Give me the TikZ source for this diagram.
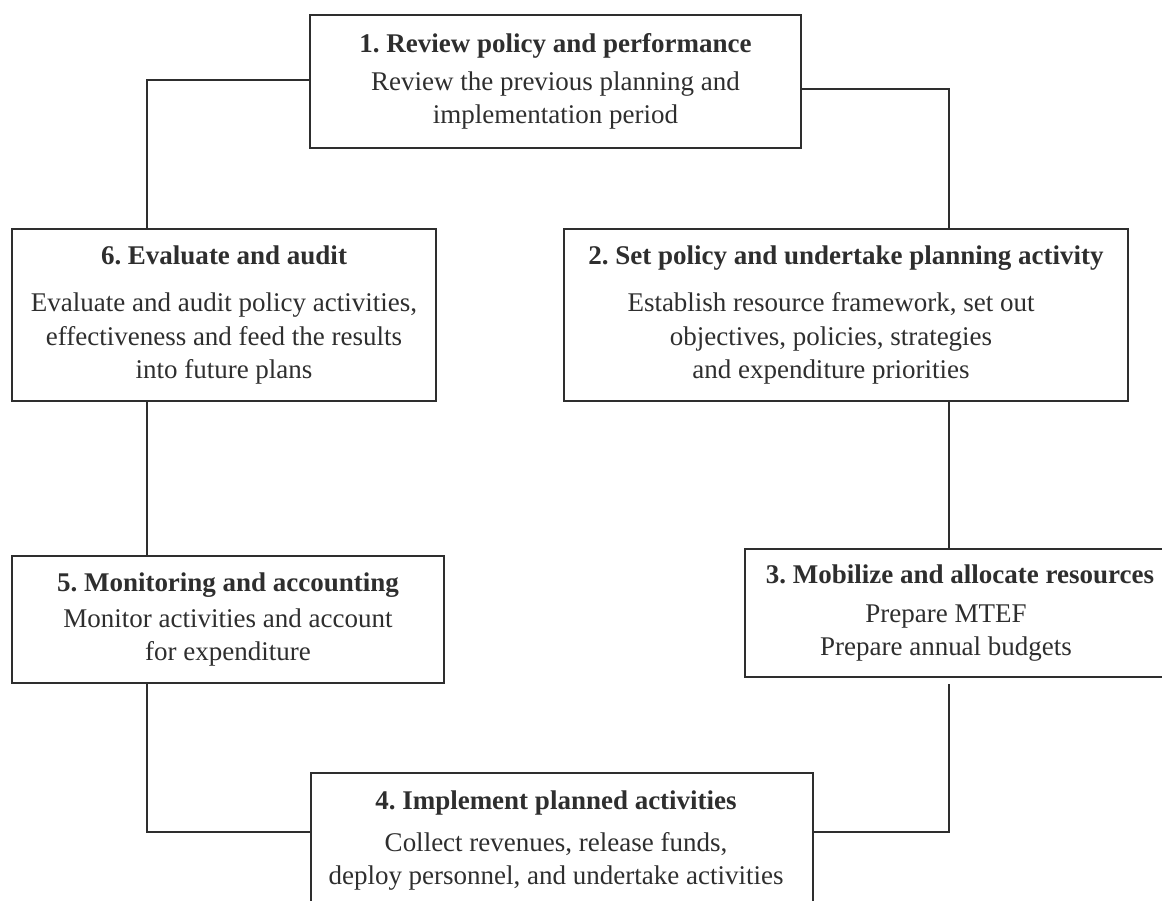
\documentclass[tikz,border=0pt]{standalone}
\usepackage{fontspec}
\setmainfont{Liberation Serif}
\usetikzlibrary{calc}
\frenchspacing

\definecolor{inkgray}{HTML}{2E2E2E}

\tikzset{
    stagebox/.style={draw=inkgray, line width=1.6pt, text=inkgray, align=center,
        inner sep=0pt, font=\fontsize{19.2}{23.5}\selectfont},
    link/.style={draw=inkgray, line width=0.9pt},
}

\begin{document}
\begin{tikzpicture}

    % --- Canvas (40 px per cm) ---
    \def\CanvasW{29.05}
    \def\CanvasH{22.525}
    \useasboundingbox (0,0) rectangle (\CanvasW,\CanvasH);

    % --- Connector columns ---
    \coordinate (colL) at (3.675, 0);
    \coordinate (colR) at (23.725, 0);

    % --- Stage boxes ---
    \node[stagebox, minimum width=12.275cm, minimum height=3.325cm] (review) at (13.8875, 20.4875)
        {\textbf{1. Review policy and performance}\\[3.5pt]
         Review the previous planning and\\ implementation period};

    \node[stagebox, minimum width=14.1cm, minimum height=4.3cm] (plan) at (21.15, 14.65)
        {\textbf{2. Set policy and undertake planning activity}\\[10pt]
         Establish resource framework, set out\rule{0.75cm}{0pt}\\
         objectives, policies, strategies\rule{0.75cm}{0pt}\\
         and expenditure priorities\rule{0.75cm}{0pt}};

    \node[stagebox, minimum width=10.5cm, minimum height=3.2cm] (mobilize) at (23.875, 7.2)
        {\rule{0.25cm}{0pt}\textbf{3. Mobilize and allocate resources}\\[4.3pt]
         Prepare MTEF\rule{0.45cm}{0pt}\\ Prepare annual budgets\rule{0.45cm}{0pt}};

    \node[stagebox, minimum width=12.55cm, minimum height=3.375cm] (implement) at (14.05, 1.5125)
        {\textbf{4. Implement planned activities}\rule{0.3cm}{0pt}\\[6.4pt]
         Collect revenues, release funds,\rule{0.3cm}{0pt}\\
         deploy personnel, and undertake activities\rule{0.3cm}{0pt}};

    \node[stagebox, minimum width=10.8cm, minimum height=3.175cm] (monitor) at (5.7, 7.0375)
        {\textbf{5. Monitoring and accounting}\\[2pt]
         Monitor activities and account\\ for expenditure};

    \node[stagebox, minimum width=10.6cm, minimum height=4.3cm] (evaluate) at (5.6, 14.65)
        {\textbf{6. Evaluate and audit}\\[10pt]
         Evaluate and audit policy activities,\\
         effectiveness and feed the results\\ into future plans};

    % --- Connectors ---
    \draw[link] ($(review.east)+(0,-0.19)$) -| (plan.north -| colR);
    \draw[link] ($(review.west)+(0,0.04)$) -| (evaluate.north -| colL);
    \draw[link] (evaluate.south -| colL) -- (monitor.north -| colL);
    \draw[link] (plan.south -| colR) -- (mobilize.north -| colR);
    \draw[link] ($(mobilize.south -| colR)+(0,-0.15)$) |- ($(implement.east)+(0,0.21)$);
    \draw[link] (monitor.south -| colL) |- ($(implement.west)+(0,0.21)$);

\end{tikzpicture}
\end{document}
